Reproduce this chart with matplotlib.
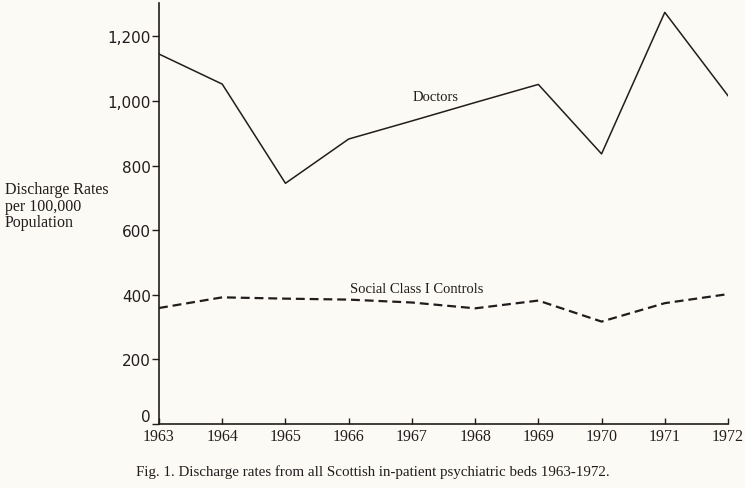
import matplotlib.pyplot as plt
import numpy as np

# dados
years = [1963, 1964, 1965, 1966, 1967, 1968, 1969, 1970, 1971, 1972]
doctors = [1145, 1052, 745, 882, 938, 995, 1051, 836, 1274, 1016]
controls = [359, 392, 388, 385, 376, 358, 382, 317, 374, 402]
yticks = [0, 200, 400, 600, 800, 1000, 1200]
ytick_labels = ['0', '200', '400', '600', '800', '1,000', '1,200']

bg = '#fbfaf5'
ink = '#231c1e'

fig = plt.figure(figsize=(7.45, 4.89), dpi=100, facecolor=bg)
ax = fig.add_axes([159 / 745, 1 - 425 / 489, (728 - 159) / 745, (425 - 4) / 489])
ax.set_facecolor(bg)

ax.plot(years, doctors, color=ink, lw=1.1)
ax.plot(years, controls, color=ink, lw=1.6, dashes=(4, 2.2))

ax.set_xlim(1963, 1972)
ax.set_ylim(0, 1303)

ax.spines['top'].set_visible(False)
ax.spines['right'].set_visible(False)
for s in ('left', 'bottom'):
    ax.spines[s].set_color(ink)
    ax.spines[s].set_linewidth(1.2)

ax.set_yticks(yticks)
ax.set_yticklabels(ytick_labels, family='DejaVu Sans', fontsize=11, color=ink)
ax.tick_params(axis='y', direction='out', length=5, width=1, color=ink, pad=1)
# o "0" fica um pouco acima do eixo, como no original
ax.get_yticklabels()[0].set_va('bottom')

ax.set_xticks(years)
ax.set_xticklabels([str(y) for y in years], family='Liberation Serif', fontsize=11.5, color=ink)
ax.tick_params(axis='x', direction='in', length=4, width=1, color=ink, pad=3)

# rótulos das séries
ax.text(1967.37, 1013, 'Doctors', family='Liberation Serif', fontsize=10.5, color=ink,
        ha='center', va='center')
ax.text(1967.07, 418, 'Social Class I Controls', family='Liberation Serif', fontsize=10.5,
        color=ink, ha='center', va='center')

# título do eixo y
fig.text(5 / 745, 1 - 182 / 489, 'Discharge Rates\nper 100,000\nPopulation',
         family='Liberation Serif', fontsize=11.5, color=ink, ha='left', va='top',
         linespacing=1.05)

# legenda da figura
fig.text(373 / 745, 1 - 472 / 489,
         'Fig. 1. Discharge rates from all Scottish in-patient psychiatric beds 1963-1972.',
         family='Liberation Serif', fontsize=10.8, color=ink, ha='center', va='center')

fig.savefig('out.png', dpi=100, facecolor=bg)
